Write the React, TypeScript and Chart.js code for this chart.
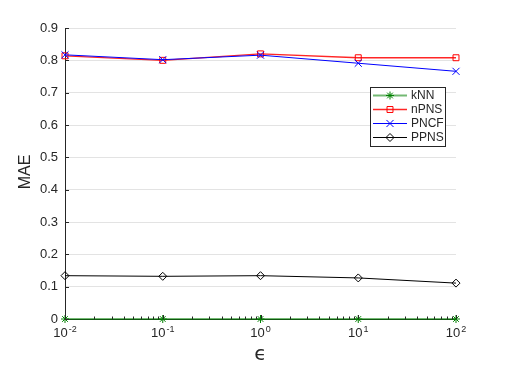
import React, { useEffect, useRef } from "react";
import { Chart, registerables } from "chart.js";

Chart.register(...registerables);

// ---- data ----
const epsilons = [0.01, 0.1, 1, 10, 100];
const xTickExponents = [-2, -1, 0, 1, 2];
const seriesNames = ["kNN", "nPNS", "PNCF", "PPNS"];
const knnValues = [0, 0, 0, 0, 0];
const npnsValues = [0.814, 0.8, 0.82, 0.808, 0.808];
const pncfValues = [0.817, 0.802, 0.816, 0.791, 0.766];
const ppnsValues = [0.134, 0.132, 0.134, 0.127, 0.111];
const yMin = 0;
const yMax = 0.9;
const yStep = 0.1;

const FONT = "'Liberation Sans', Arial, Helvetica, sans-serif";
const AXIS_COLOR = "#262626";

const seriesStyles = [
  { color: "#008000", line: "rgba(0,128,0,0.55)", lineWidth: 2, pointStyle: "star", radius: 4 },
  { color: "#ff0000", line: "rgba(255,0,0,0.85)", lineWidth: 1.3, pointStyle: "rect", radius: 4.2 },
  { color: "#0000ff", line: "#0000ff", lineWidth: 1, pointStyle: "crossRot", radius: 5 },
  { color: "#000000", line: "#000000", lineWidth: 1, pointStyle: "rectRot", radius: 4 },
];
const seriesValues = [knnValues, npnsValues, pncfValues, ppnsValues];

function drawMarker(ctx: CanvasRenderingContext2D, style: string, x: number, y: number, r: number, color: string) {
  ctx.save();
  ctx.strokeStyle = color;
  ctx.lineWidth = 1;
  ctx.beginPath();
  if (style === "star") {
    for (let i = 0; i < 4; i++) {
      const a = (i * Math.PI) / 4;
      ctx.moveTo(x - Math.cos(a) * r, y - Math.sin(a) * r);
      ctx.lineTo(x + Math.cos(a) * r, y + Math.sin(a) * r);
    }
  } else if (style === "rect") {
    const s = r * Math.SQRT1_2;
    ctx.rect(x - s, y - s, 2 * s, 2 * s);
  } else if (style === "crossRot") {
    const s = r * Math.SQRT1_2;
    ctx.moveTo(x - s, y - s);
    ctx.lineTo(x + s, y + s);
    ctx.moveTo(x - s, y + s);
    ctx.lineTo(x + s, y - s);
  } else if (style === "rectRot") {
    ctx.moveTo(x - r, y);
    ctx.lineTo(x, y - r);
    ctx.lineTo(x + r, y);
    ctx.lineTo(x, y + r);
    ctx.closePath();
  }
  ctx.stroke();
  ctx.restore();
}

const decorPlugin = {
  id: "decor",
  afterDraw(chart: any) {
    const ctx: CanvasRenderingContext2D = chart.ctx;
    const xs = chart.scales.x;
    const ys = chart.scales.y;
    const area = chart.chartArea;
    ctx.save();

    // inside ticks on y axis
    ctx.strokeStyle = AXIS_COLOR;
    ctx.lineWidth = 1;
    ctx.beginPath();
    for (let v = yMin; v <= yMax + 1e-9; v += yStep) {
      const py = Math.round(ys.getPixelForValue(v)) + 0.5;
      ctx.moveTo(area.left, py);
      ctx.lineTo(area.left + 4, py);
    }
    // x major & minor ticks
    for (let e = xTickExponents[0]; e <= xTickExponents[xTickExponents.length - 1]; e++) {
      const px = Math.round(xs.getPixelForValue(Math.pow(10, e))) + 0.5;
      ctx.moveTo(px, area.bottom);
      ctx.lineTo(px, area.bottom - 4);
      if (e < xTickExponents[xTickExponents.length - 1]) {
        for (let m = 2; m <= 9; m++) {
          const mx = Math.round(xs.getPixelForValue(m * Math.pow(10, e))) + 0.5;
          ctx.moveTo(mx, area.bottom);
          ctx.lineTo(mx, area.bottom - 2.5);
        }
      }
    }
    ctx.stroke();

    // x tick labels with superscripts
    ctx.fillStyle = AXIS_COLOR;
    ctx.textBaseline = "alphabetic";
    ctx.textAlign = "left";
    for (const e of xTickExponents) {
      const px = xs.getPixelForValue(Math.pow(10, e));
      ctx.font = `13px ${FONT}`;
      const baseW = ctx.measureText("10").width;
      const expStr = e < 0 ? "-" + Math.abs(e) : String(e);
      ctx.font = `9px ${FONT}`;
      const expW = ctx.measureText(expStr).width;
      const total = baseW + 1 + expW;
      const start = px - total / 2;
      ctx.font = `13px ${FONT}`;
      ctx.fillText("10", start, area.bottom + 18);
      ctx.font = `9px ${FONT}`;
      ctx.fillText(expStr, start + baseW + 1, area.bottom + 13);
    }

    // axis titles
    ctx.textAlign = "center";
    ctx.textBaseline = "middle";
    ctx.font = `20px 'DejaVu Sans', ${FONT}`;
    ctx.fillText("\u03F5", (area.left + area.right) / 2, 355);
    ctx.save();
    ctx.translate(26, 172);
    ctx.rotate(-Math.PI / 2);
    ctx.font = `16px ${FONT}`;
    ctx.fillText("MAE", 0, 0);
    ctx.restore();

    // legend
    const lx = 370.5, ly = 87.5, lw = 75, lh = 59;
    ctx.fillStyle = "#ffffff";
    ctx.fillRect(lx, ly, lw, lh);
    ctx.strokeStyle = AXIS_COLOR;
    ctx.lineWidth = 1;
    ctx.strokeRect(lx, ly, lw, lh);
    ctx.textAlign = "left";
    ctx.textBaseline = "middle";
    ctx.font = `12px ${FONT}`;
    seriesNames.forEach((name, i) => {
      const st = seriesStyles[i];
      const ry = 95 + i * 14;
      ctx.strokeStyle = st.line;
      ctx.lineWidth = st.lineWidth;
      ctx.beginPath();
      ctx.moveTo(373, ry + 0.5);
      ctx.lineTo(407, ry + 0.5);
      ctx.stroke();
      drawMarker(ctx, st.pointStyle, 390, ry + 0.5, st.radius, st.color);
      ctx.fillStyle = AXIS_COLOR;
      ctx.fillText(name, 411, ry + 1);
    });

    ctx.restore();
  },
};

export default function App() {
  const ref = useRef<HTMLCanvasElement | null>(null);

  useEffect(() => {
    if (!ref.current) return;
    const datasets = seriesNames.map((name, i) => ({
      label: name,
      data: epsilons.map((x, j) => ({ x, y: seriesValues[i][j] })),
      borderColor: seriesStyles[i].line,
      backgroundColor: "rgba(0,0,0,0)",
      borderWidth: seriesStyles[i].lineWidth,
      pointStyle: seriesStyles[i].pointStyle as any,
      pointRadius: seriesStyles[i].radius,
      pointBorderColor: seriesStyles[i].color,
      pointBackgroundColor: "rgba(0,0,0,0)",
      pointBorderWidth: 1,
      tension: 0,
      clip: false as any,
      order: seriesNames.length - i,
    }));

    const chart = new Chart(ref.current, {
      type: "line",
      data: { datasets },
      plugins: [decorPlugin],
      options: {
        animation: false,
        responsive: false,
        maintainAspectRatio: false,
        layout: { padding: { top: 28, right: 49, left: 0, bottom: 0 } },
        plugins: { legend: { display: false }, tooltip: { enabled: false } },
        scales: {
          x: {
            type: "logarithmic",
            min: 0.01,
            max: 100,
            grid: { display: false, drawTicks: false },
            border: { display: true, color: AXIS_COLOR, width: 1 },
            ticks: { display: false },
            afterFit: (s: any) => {
              s.height = 60;
            },
          },
          y: {
            type: "linear",
            min: yMin,
            max: yMax,
            grid: { color: "#e3e3e3", drawTicks: false, lineWidth: 1 },
            border: { display: true, color: AXIS_COLOR, width: 1 },
            ticks: {
              stepSize: yStep,
              padding: 7,
              color: AXIS_COLOR,
              font: { family: FONT, size: 13 },
              callback: (v: any) => (Number(v) === 0 ? "0" : Number(v).toFixed(1)),
            },
            afterFit: (s: any) => {
              s.width = 65;
            },
          },
        },
      },
    });
    return () => chart.destroy();
  }, []);

  return (
    <div style={{ position: "absolute", left: 0, top: 0, width: 505, height: 379, background: "#fff" }}>
      <canvas ref={ref} width={505} height={379} style={{ width: 505, height: 379 }} />
    </div>
  );
}
